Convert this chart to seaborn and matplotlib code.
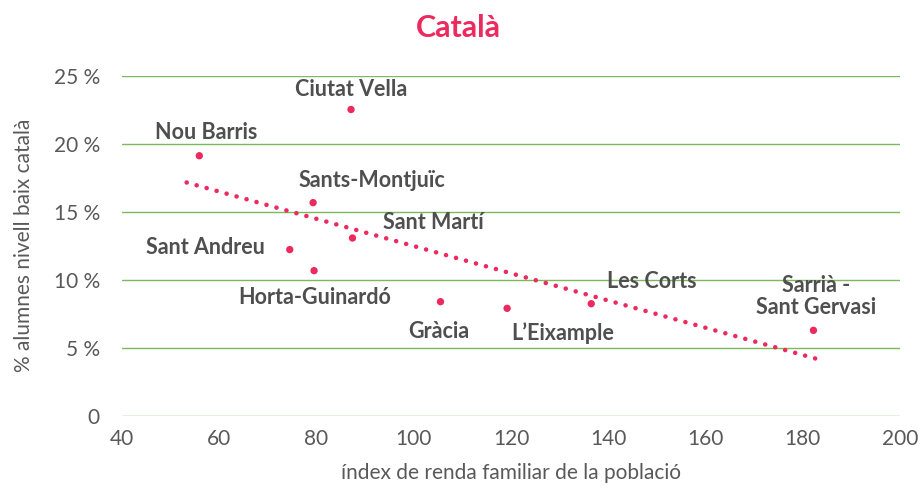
import matplotlib
matplotlib.use("Agg")
import matplotlib.pyplot as plt
import seaborn as sns
import numpy as np
import pandas as pd

districts = ["Ciutat Vella", "Nou Barris", "Sants-Montjuïc", "Sant Martí", "Sant Andreu",
             "Horta-Guinardó", "Gràcia", "L’Eixample", "Les Corts", "Sarrià -\nSant Gervasi"]
income_index = [87.1, 55.9, 79.3, 87.4, 74.5, 79.5, 105.5, 119.2, 136.5, 182.2]
low_catalan_pct = [22.5, 19.1, 15.65, 13.05, 12.2, 10.65, 8.37, 7.88, 8.22, 6.26]
x_ticks = [40, 60, 80, 100, 120, 140, 160, 180, 200]
y_ticks = [0, 5, 10, 15, 20, 25]
trend_x_range = [53.3, 183.5]

# label offsets in pixels (layout only)
label_offsets = {
    "Ciutat Vella": (0, 20), "Nou Barris": (7, 23), "Sants-Montjuïc": (59, 22),
    "Sant Martí": (81, 16), "Sant Andreu": (-84, 2), "Horta-Guinardó": (1, -27),
    "Gràcia": (-2, -30), "L’Eixample": (56, -25), "Les Corts": (61, 22),
    "Sarrià -\nSant Gervasi": (3, 34),
}

df = pd.DataFrame({"district": districts, "x": income_index, "y": low_catalan_pct})

sns.set_theme(style="white")
plt.rcParams["font.family"] = ["Lato", "DejaVu Sans"]

PINK = "#EC2A5E"
GRAY = "#595959"
LABEL = "#4F4F4F"

fig = plt.figure(figsize=(9.21, 4.87), dpi=100)
ax = fig.add_axes([122 / 921, 1 - 415.5 / 487, (900 - 122) / 921, (415.5 - 75.5) / 487])

# linear trendline (least squares) drawn over the trendline's x range
slope, intercept = np.polyfit(df["x"], df["y"], 1)
tx = np.array(trend_x_range)
sns.lineplot(x=tx, y=slope * tx + intercept, ax=ax, color=PINK, lw=3.3,
             linestyle=(0, (0.01, 2.25)), dash_capstyle="round", zorder=2)
sns.scatterplot(data=df, x="x", y="y", ax=ax, color=PINK, s=28, edgecolor="none", zorder=3)

for name, xv, yv in zip(districts, income_index, low_catalan_pct):
    dx, dy = label_offsets[name]
    ax.annotate(name, (xv, yv), xytext=(dx, dy), textcoords="offset pixels",
                ha="center", va="center", fontsize=15.5, fontweight="bold",
                color=LABEL, linespacing=1.1, zorder=4)

ax.set_xlim(40, 200)
ax.set_ylim(0, 25)
ax.set_xticks(x_ticks)
ax.set_yticks(y_ticks)
ax.set_yticklabels([f"{v} %" if v else "0" for v in y_ticks])
ax.tick_params(axis="both", length=0, labelsize=15, colors=GRAY)
ax.tick_params(axis="x", pad=10)
ax.tick_params(axis="y", pad=16)
ax.grid(axis="y", color="#7DB85E", lw=1)
ax.grid(axis="x", visible=False)
ax.set_axisbelow(True)
for s in ax.spines.values():
    s.set_visible(False)

ax.set_xlabel("índex de renda familiar de la població", fontsize=15, color=GRAY, labelpad=10)
ax.set_ylabel("% alumnes nivell baix català", fontsize=15, color=GRAY, labelpad=14)

fig.text(458 / 921, 1 - 28 / 487, "Català", ha="center", va="center",
         fontsize=22, fontweight="bold", color=PINK)

fig.savefig("out.png", dpi=100)
